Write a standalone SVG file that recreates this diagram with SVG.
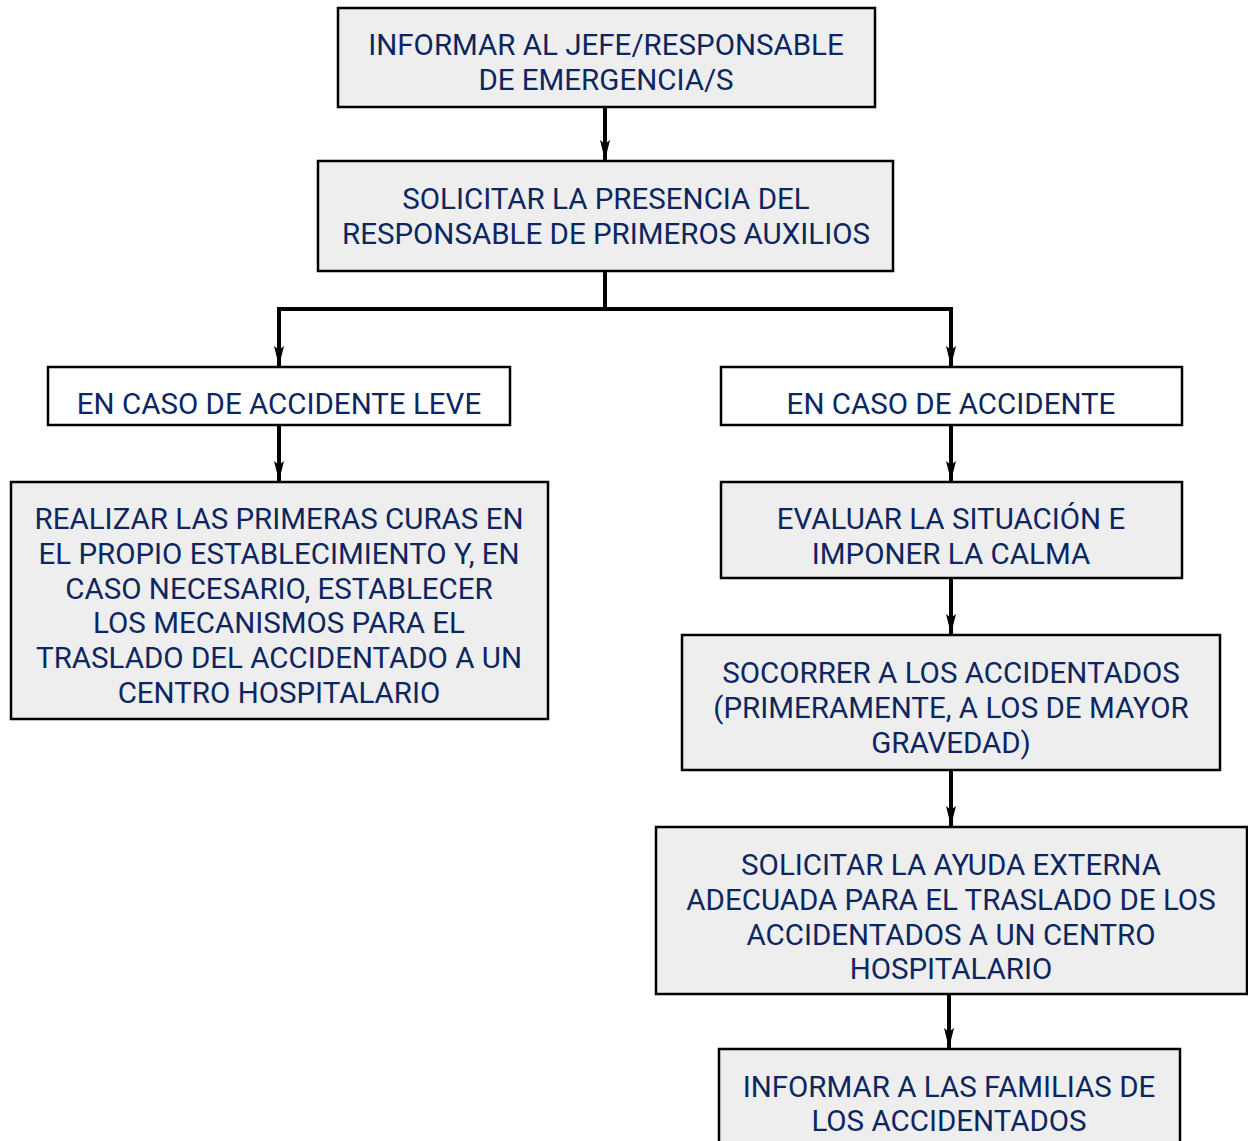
<svg xmlns="http://www.w3.org/2000/svg" width="1248" height="1141" viewBox="0 0 1248 1141">
<defs>
<style>
.box{fill:#eeeeee;stroke:#000;stroke-width:2.5}
.wbox{fill:#ffffff;stroke:#000;stroke-width:2.5}
.t{font-family:Roboto,"Liberation Sans",sans-serif;font-size:29.5px;fill:#0c2661;text-anchor:middle}
.c{fill:none;stroke:#000;stroke-width:4}
</style>
<marker id="ah" viewBox="0 0 20 10" refX="20" refY="5" markerWidth="20" markerHeight="10" markerUnits="userSpaceOnUse" orient="auto">
<path d="M0,0 L4,5 L0,10 L20,5 Z" fill="#000"/>
</marker>
</defs>
<rect width="1248" height="1141" fill="#fff"/>
<g id="connectors">
<path class="c" d="M605,107 V160" marker-end="url(#ah)"/>
<path class="c" d="M605,271 V309 M279,309 H951"/>
<path class="c" d="M279,307 V366" marker-end="url(#ah)"/>
<path class="c" d="M951,307 V366" marker-end="url(#ah)"/>
<path class="c" d="M279,425 V481" marker-end="url(#ah)"/>
<path class="c" d="M951,425 V481" marker-end="url(#ah)"/>
<path class="c" d="M951,578 V634" marker-end="url(#ah)"/>
<path class="c" d="M951,770 V826" marker-end="url(#ah)"/>
<path class="c" d="M949,994 V1048" marker-end="url(#ah)"/>
</g>
<g id="n1"><rect class="box" x="338" y="8" width="537" height="99"/>
<text class="t" x="606" y="55">INFORMAR AL JEFE/RESPONSABLE</text>
<text class="t" x="606" y="90">DE EMERGENCIA/S</text></g>
<g id="n2"><rect class="box" x="318" y="161" width="575" height="110"/>
<text class="t" x="606" y="209">SOLICITAR LA PRESENCIA DEL</text>
<text class="t" x="606" y="244">RESPONSABLE DE PRIMEROS AUXILIOS</text></g>
<g id="n3"><rect class="wbox" x="48" y="367" width="462" height="58"/>
<text class="t" x="279" y="414">EN CASO DE ACCIDENTE LEVE</text></g>
<g id="n4"><rect class="wbox" x="721" y="367" width="461" height="58"/>
<text class="t" x="951" y="414">EN CASO DE ACCIDENTE</text></g>
<g id="n5"><rect class="box" x="11" y="482" width="537" height="237"/>
<text class="t" x="279" y="529">REALIZAR LAS PRIMERAS CURAS EN</text>
<text class="t" x="279" y="564">EL PROPIO ESTABLECIMIENTO Y, EN</text>
<text class="t" x="279" y="599">CASO NECESARIO, ESTABLECER</text>
<text class="t" x="279" y="633">LOS MECANISMOS PARA EL</text>
<text class="t" x="279" y="668">TRASLADO DEL ACCIDENTADO A UN</text>
<text class="t" x="279" y="703">CENTRO HOSPITALARIO</text></g>
<g id="n6"><rect class="box" x="721" y="482" width="461" height="96"/>
<text class="t" x="951" y="529">EVALUAR LA SITUACIÓN E</text>
<text class="t" x="951" y="564">IMPONER LA CALMA</text></g>
<g id="n7"><rect class="box" x="682" y="635" width="538" height="135"/>
<text class="t" x="951" y="683">SOCORRER A LOS ACCIDENTADOS</text>
<text class="t" x="951" y="718">(PRIMERAMENTE, A LOS DE MAYOR</text>
<text class="t" x="951" y="753">GRAVEDAD)</text></g>
<g id="n8"><rect class="box" x="656" y="827" width="591" height="167"/>
<text class="t" x="951" y="875">SOLICITAR LA AYUDA EXTERNA</text>
<text class="t" x="951" y="910">ADECUADA PARA EL TRASLADO DE LOS</text>
<text class="t" x="951" y="945">ACCIDENTADOS A UN CENTRO</text>
<text class="t" x="951" y="979">HOSPITALARIO</text></g>
<g id="n9"><rect class="box" x="719" y="1049" width="461" height="110"/>
<text class="t" x="949" y="1097">INFORMAR A LAS FAMILIAS DE</text>
<text class="t" x="949" y="1131">LOS ACCIDENTADOS</text></g>
</svg>
